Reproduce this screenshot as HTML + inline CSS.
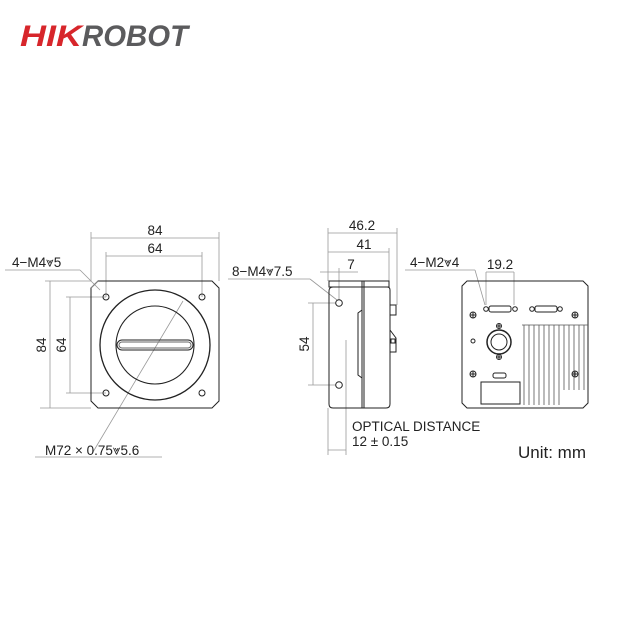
<!DOCTYPE html>
<html><head><meta charset="utf-8"><style>
html,body{margin:0;padding:0;background:#fff;width:640px;height:640px;overflow:hidden}
svg text{font-family:"Liberation Sans",sans-serif;fill:#222}
</style></head><body>
<svg width="640" height="640" viewBox="0 0 640 640" xmlns="http://www.w3.org/2000/svg">
<!-- Logo -->
<text x="20" y="46" font-size="30" font-weight="bold" font-style="italic" style="fill:#d7262b" textLength="62" lengthAdjust="spacingAndGlyphs">HIK</text>
<text x="82" y="46" font-size="30" font-weight="bold" font-style="italic" style="fill:#5b5b5d" textLength="106" lengthAdjust="spacingAndGlyphs">ROBOT</text>

<g stroke="#999" stroke-width="0.8" fill="none">
<!-- front dims -->
<line x1="91" y1="232" x2="91" y2="281"/><line x1="219" y1="232" x2="219" y2="281"/>
<line x1="91" y1="238" x2="219" y2="238"/>
<line x1="106" y1="252" x2="106" y2="297"/><line x1="202" y1="252" x2="202" y2="297"/>
<line x1="106" y1="256" x2="202" y2="256"/>
<line x1="45" y1="281" x2="91" y2="281"/><line x1="40" y1="408" x2="91" y2="408"/>
<line x1="50" y1="281" x2="50" y2="408"/>
<line x1="66" y1="297" x2="106" y2="297"/><line x1="66" y1="393" x2="106" y2="393"/>
<line x1="70" y1="297" x2="70" y2="393"/>
<line x1="5" y1="270" x2="80" y2="270"/><line x1="80" y1="270" x2="100" y2="290"/>
<line x1="35" y1="457" x2="162" y2="457"/><line x1="93" y1="452" x2="183" y2="301"/>
<!-- side dims -->
<line x1="328" y1="228" x2="328" y2="281"/><line x1="397" y1="228" x2="397" y2="305"/>
<line x1="328" y1="233" x2="397" y2="233"/>
<line x1="389" y1="248" x2="389" y2="281"/><line x1="328" y1="252" x2="389" y2="252"/>
<line x1="339" y1="268" x2="339" y2="300"/><line x1="320" y1="272" x2="358" y2="272"/>
<line x1="308" y1="303" x2="336" y2="303"/><line x1="308" y1="385" x2="336" y2="385"/>
<line x1="313" y1="303" x2="313" y2="385"/>
<line x1="228" y1="279" x2="310" y2="279"/><line x1="310" y1="279" x2="337" y2="300"/>
<line x1="346" y1="340" x2="346" y2="455"/><line x1="328" y1="408" x2="328" y2="455"/>
<line x1="328" y1="450" x2="346" y2="450"/>
<!-- back dims -->
<line x1="405" y1="270" x2="475" y2="270"/><line x1="475" y1="270" x2="485" y2="305"/>
<line x1="486" y1="272" x2="486" y2="305"/><line x1="514" y1="272" x2="514" y2="305"/>
<line x1="486" y1="272" x2="514" y2="272"/>
</g>

<!-- front view -->
<g stroke="#222" stroke-width="1" fill="none">
<path d="M98 281 H212 L219 288 V401 L212 408 H98 L91 401 V288 Z"/>
<line x1="91" y1="288" x2="98" y2="281" stroke="#888"/>
<circle cx="106" cy="297" r="3"/><circle cx="202" cy="297" r="3"/>
<circle cx="106" cy="393" r="3"/><circle cx="202" cy="393" r="3"/>
<circle cx="155" cy="345" r="55" stroke-width="1.3"/>
<circle cx="155" cy="345" r="39" stroke-width="1.1"/>
<rect x="117" y="340" width="76" height="10" rx="5"/>
<rect x="119" y="342" width="72" height="6" rx="3" stroke="#666"/>
</g>

<!-- side view -->
<g stroke="#222" stroke-width="1" fill="none">
<rect x="329" y="281" width="60" height="6"/>
<path d="M333 287 H387 Q390 287 390 290 V404 Q390 408 386 408 H333 Q329 408 329 404 V291 Q329 287 333 287 Z"/>
<line x1="362" y1="281" x2="362" y2="408"/><line x1="364" y1="281" x2="364" y2="408"/>
<path d="M362 310 L358 313 V375 L362 378"/>
<rect x="390" y="305" width="6" height="10"/>
<path d="M390 330 L396 338 V352 H390"/>
<rect x="391" y="339" width="4" height="4"/>
<circle cx="339" cy="303" r="3.3"/><circle cx="339" cy="385" r="3.3"/>
</g>

<!-- back view -->
<g stroke="#222" stroke-width="1" fill="none">
<path d="M467 281 H583 L588 286 V403 L583 408 H467 L462 403 V286 Z"/>
<rect x="489" y="306" width="22" height="6" rx="2"/>
<circle cx="486" cy="309" r="2.3"/><circle cx="515" cy="309" r="2.3"/>
<rect x="535" y="306" width="22" height="6" rx="2"/>
<circle cx="532" cy="309" r="2.3"/><circle cx="560" cy="309" r="2.3"/>
<g>
<circle cx="473" cy="315" r="3"/><path d="M470 315h6M473 312v6"/>
<circle cx="575" cy="315" r="3"/><path d="M572 315h6M575 312v6"/>
<circle cx="473" cy="374" r="3"/><path d="M470 374h6M473 371v6"/>
<circle cx="575" cy="374" r="3"/><path d="M572 374h6M575 371v6"/>
<circle cx="499" cy="326" r="2.5"/><path d="M497 326h4M499 324v4"/>
<circle cx="499" cy="357" r="2.5"/><path d="M497 357h4M499 355v4"/>
</g>
<circle cx="499" cy="342" r="12" stroke-width="1.5"/>
<circle cx="499" cy="342" r="8"/>
<circle cx="473" cy="341" r="2"/>
<rect x="493" y="373" width="13" height="5" rx="2"/>
<rect x="481" y="382" width="39" height="22"/>
<path d="M524 325 V405 M529 325 V405 M534 325 V405 M539 325 V405 M544 325 V405 M549 325 V405 M554 325 V405 M559 325 V405 M564 325 V390 M569 325 V390 M574 325 V390 M579 325 V390 M584 325 V390" stroke="#555" stroke-width="0.8"/>
<line x1="522" y1="325" x2="588" y2="325" stroke="#555" stroke-width="0.8"/>
</g>

<!-- texts -->
<g font-size="13.5">
<text x="155" y="235" text-anchor="middle">84</text>
<text x="155" y="253" text-anchor="middle">64</text>
<text x="12" y="267">4−M4⩔5</text>
<text x="45" y="455">M72 × 0.75⩔5.6</text>
<text transform="translate(46,345) rotate(-90)" text-anchor="middle">84</text>
<text transform="translate(66,345) rotate(-90)" text-anchor="middle">64</text>
<text x="362" y="230" text-anchor="middle">46.2</text>
<text x="364" y="249" text-anchor="middle">41</text>
<text x="351" y="269" text-anchor="middle">7</text>
<text x="232" y="276">8−M4⩔7.5</text>
<text transform="translate(309,344) rotate(-90)" text-anchor="middle">54</text>
<text x="352" y="431">OPTICAL DISTANCE</text>
<text x="352" y="446">12 ± 0.15</text>
<text x="410" y="267">4−M2⩔4</text>
<text x="500" y="269" text-anchor="middle">19.2</text>
</g>
<text x="518" y="458" font-size="17">Unit: mm</text>
</svg>
</body></html>
